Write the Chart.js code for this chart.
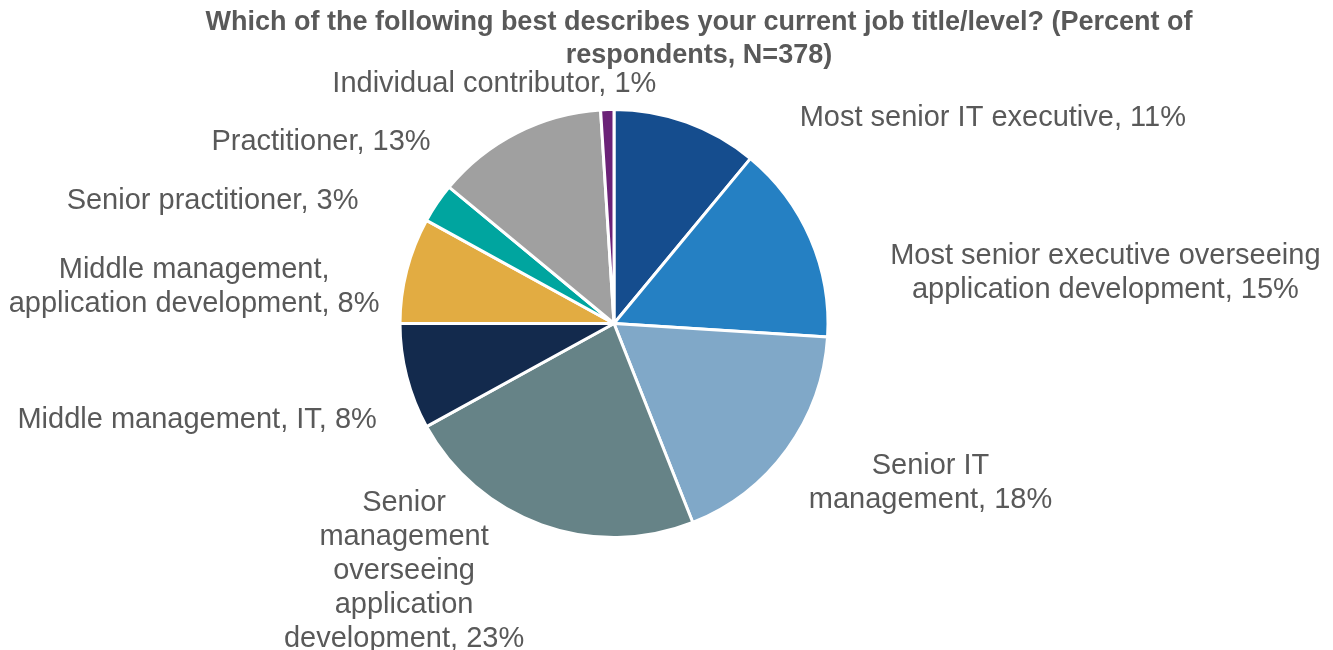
<!DOCTYPE html>
<html>
<head>
<meta charset="utf-8">
<script src="https://cdn.jsdelivr.net/npm/chart.js@4"></script>
<style>
  html, body { margin: 0; padding: 0; background: #fff; }
  #wrap { width: 1333px; height: 650px; position: relative; }
</style>
</head>
<body>
<div id="wrap"><canvas id="chartJobs"></canvas></div>
<script>
const categories = [
  'Most senior IT executive',
  'Most senior executive overseeing application development',
  'Senior IT management',
  'Senior management overseeing application development',
  'Middle management, IT',
  'Middle management, application development',
  'Senior practitioner',
  'Practitioner',
  'Individual contributor'
];
const percents = [11, 15, 18, 23, 8, 8, 3, 13, 1];
const labelLines = [
  ['Most senior IT executive, 11%'],
  ['Most senior executive overseeing', 'application development, 15%'],
  ['Senior IT', 'management, 18%'],
  ['Senior', 'management', 'overseeing', 'application', 'development, 23%'],
  ['Middle management, IT, 8%'],
  ['Middle management,', 'application development, 8%'],
  ['Senior practitioner, 3%'],
  ['Practitioner, 13%'],
  ['Individual contributor, 1%']
];
const titleLines = [
  'Which of the following best describes your current job title/level? (Percent of',
  'respondents, N=378)'
];

const sliceColors = ['#154D8E', '#2580C3', '#80A8C8', '#668387', '#132A4D', '#E2AC42', '#00A59F', '#A0A0A0', '#6B2278'];
// label centres, in multiples of the pie radius from the pie centre
const labelAnchors = [
  [1.77, -0.962], [2.296, -0.235], [1.479, 0.746], [-0.981, 1.155],
  [-1.948, 0.451], [-1.962, -0.169], [-1.876, -0.573], [-1.369, -0.85], [-0.559, -1.117]
];

const textColor = '#595959';

const outsideLabels = {
  id: 'outsideLabels',
  afterDraw(chart) {
    const ctx = chart.ctx;
    const arc = chart.getDatasetMeta(0).data[0];
    const cx = arc.x, cy = arc.y, r = arc.outerRadius;
    ctx.save();
    ctx.fillStyle = textColor;
    ctx.textAlign = 'center';
    ctx.textBaseline = 'middle';

    ctx.font = 'bold 27px "Liberation Sans", Arial, sans-serif';
    titleLines.forEach((line, i) => ctx.fillText(line, 699, 23 + i * 33));

    ctx.font = '29px "Liberation Sans", Arial, sans-serif';
    const lh = 34;
    labelLines.forEach((lines, i) => {
      const x = cx + labelAnchors[i][0] * r;
      const y = cy + labelAnchors[i][1] * r;
      const top = y - (lines.length - 1) * lh / 2;
      lines.forEach((line, j) => ctx.fillText(line, x, top + j * lh));
    });
    ctx.restore();
  }
};

new Chart(document.getElementById('chartJobs'), {
  type: 'pie',
  data: {
    labels: categories,
    datasets: [
      {
        data: percents,
        backgroundColor: sliceColors,
        borderColor: '#ffffff',
        borderWidth: 3
      }
    ]
  },
  options: {
    responsive: true,
    maintainAspectRatio: false,
    animation: false,
    layout: { padding: { top: 108, bottom: 111, left: 300, right: 405 } },
    plugins: {
      legend: { display: false },
      tooltip: { enabled: false },
      title: { display: false }
    }
  },
  plugins: [outsideLabels]
});
</script>
</body>
</html>
